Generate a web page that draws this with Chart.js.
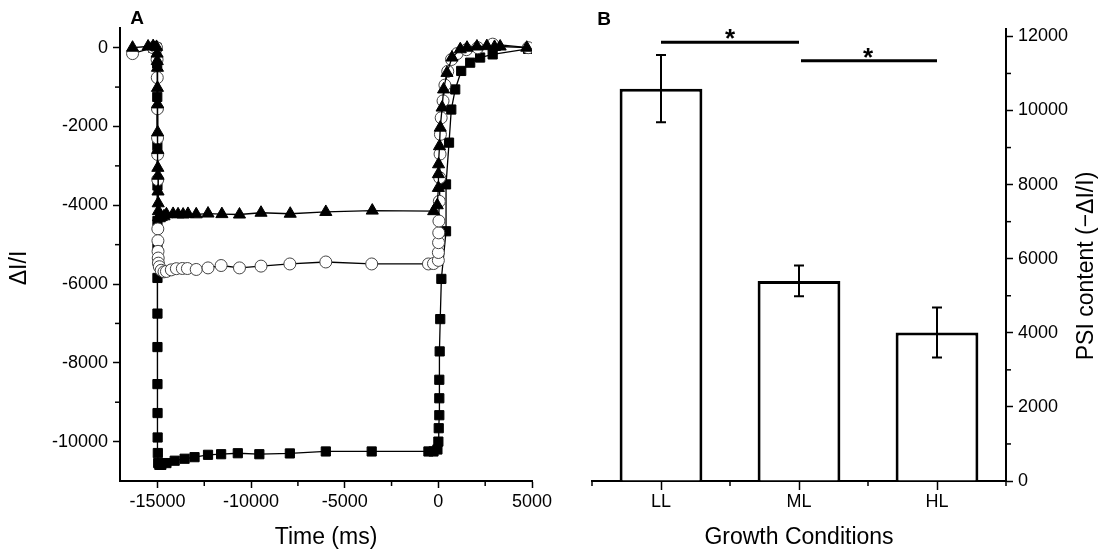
<!DOCTYPE html>
<html><head><meta charset="utf-8">
<script src="https://cdn.jsdelivr.net/npm/chart.js@4/dist/chart.umd.min.js"></script>
<style>
html,body{margin:0;padding:0;background:#fff;}
#wrap{position:relative;width:1106px;height:554px;overflow:hidden;background:#fff;}
#cA{position:absolute;left:0;top:0;}
#cB{position:absolute;left:560px;top:0;}
</style></head><body>
<div id="wrap"><canvas id="cA" width="560" height="554"></canvas><canvas id="cB" width="546" height="554"></canvas></div>
<script>
// ---------- Panel A data (time in ms, ΔI/I) ----------
const triT = [-16330,-15500,-15230,-15050,-15020,-15010,-15000,-15000,-14990,-14990,-14980,-14980,-14970,-14970,-14960,-14950,-14940,-14900,-14800,-14650,-14520,-14165,-13900,-13630,-13370,-12930,-12300,-11560,-10620,-9470,-7910,-6010,-3530,-250,-60,0,0,10,60,100,200,280,460,730,1170,1530,2060,2590,3000,3300,4720];
const triV = [0,30,40,20,-150,-340,-510,-1020,-1440,-2150,-2600,-3050,-3250,-3650,-3950,-4150,-4300,-4330,-4300,-4280,-4230,-4220,-4230,-4235,-4220,-4230,-4210,-4225,-4235,-4190,-4215,-4170,-4135,-4150,-4000,-3560,-3210,-2960,-2500,-2030,-1520,-1060,-640,-250,-40,0,30,40,20,30,0];
const cirT = [-16330,-15230,-15050,-15020,-15010,-15000,-14995,-14990,-14985,-14980,-14975,-14970,-14960,-14950,-14900,-14800,-14650,-14520,-14260,-13990,-13670,-13400,-12930,-12300,-11600,-10620,-9470,-7930,-6010,-3560,-530,-260,0,0,10,20,30,50,70,90,110,150,250,350,500,700,1000,1500,2100,2900,4800];
const cirV = [-150,0,0,-300,-760,-1550,-2290,-2710,-3350,-4600,-4900,-5170,-5340,-5470,-5560,-5650,-5690,-5680,-5640,-5610,-5605,-5606,-5630,-5590,-5530,-5590,-5545,-5490,-5440,-5490,-5490,-5480,-5400,-5200,-4950,-4700,-4400,-3900,-3300,-2700,-2200,-1780,-1350,-950,-600,-300,-150,-50,0,90,0];
const sqT = [-15230,-15050,-15015,-15010,-15005,-15000,-15000,-15000,-15000,-15000,-15000,-15000,-14995,-14990,-14980,-14960,-14900,-14790,-14520,-14080,-13550,-13020,-12300,-11600,-10710,-9560,-7930,-6010,-3560,-530,-260,-50,0,20,50,50,50,70,100,160,410,410,570,690,900,1220,1700,2230,2900,4790];
const sqV = [0,0,-400,-1250,-2500,-3500,-4400,-5100,-5845,-6750,-7600,-8540,-9275,-9895,-10290,-10545,-10590,-10590,-10545,-10485,-10435,-10395,-10335,-10320,-10295,-10320,-10300,-10250,-10250,-10250,-10250,-10200,-10000,-9660,-9330,-8900,-8430,-7710,-6890,-5870,-4660,-3470,-2410,-1570,-1060,-590,-380,-250,-170,-30];
const xTicksA = [-15000,-10000,-5000,0,5000];
const xMinorA = [-12500,-7500,-2500,2500];
const yTicksA = [0,-2000,-4000,-6000,-8000,-10000];
const yMinorA = [-1000,-3000,-5000,-7000,-9000];

// ---------- Panel B data ----------
const conds = ['LL','ML','HL'];
const means = [10590,5400,4010];
const errs = [910,415,675];
const sigFrom = [0,1];
const sigTo = [1,2];
const sigLevel = [11840,11340];
const sigMark = ['*','*'];
const yTicksB = [0,2000,4000,6000,8000,10000,12000];
const yMinorB = [1000,3000,5000,7000,9000,11000];
const xMinorB = [-0.5,0.5,1.5,2.5];

const FONT = "'Liberation Sans', Arial, sans-serif";
Chart.defaults.font.family = FONT;
Chart.defaults.color = '#000';

function pts(t, v){ return t.map((x,i)=>({x:x, y:v[i]})); }

const minorTicks = {
  id:'minorTicks',
  afterDraw(chart, args, opts){
    const ctx = chart.ctx; ctx.save(); ctx.strokeStyle='#000'; ctx.lineWidth=1.5;
    (opts.list||[]).forEach(m=>{
      const s = chart.scales[m.axis];
      m.values.forEach(v=>{
        const p = s.getPixelForValue(v);
        ctx.beginPath();
        if (s.isHorizontal()) { ctx.moveTo(p, s.top); ctx.lineTo(p, s.top + m.len); }
        else if (s.position==='left') { ctx.moveTo(s.right, p); ctx.lineTo(s.right - m.len, p); }
        else { ctx.moveTo(s.left, p); ctx.lineTo(s.left + m.len, p); }
        ctx.stroke();
      });
    });
    ctx.restore();
  }
};

const texts = {
  id:'texts',
  afterDraw(chart, args, opts){
    const ctx = chart.ctx; ctx.save(); ctx.fillStyle='#000';
    ctx.textAlign='center'; ctx.textBaseline='middle';
    (opts.items||[]).forEach(it=>{
      ctx.save();
      ctx.font = it.font;
      ctx.translate(it.x, it.y);
      if (it.rot) ctx.rotate(it.rot);
      ctx.fillText(it.text, 0, 0);
      ctx.restore();
    });
    ctx.restore();
  }
};

const errSig = {
  id:'errSig',
  afterDatasetsDraw(chart){
    const ctx = chart.ctx, xs = chart.scales.x, ys = chart.scales.y;
    ctx.save(); ctx.strokeStyle='#000';
    ctx.lineWidth = 2;
    means.forEach((m,i)=>{
      const x = xs.getPixelForValue(i);
      const yt = ys.getPixelForValue(m + errs[i]);
      const yb = ys.getPixelForValue(m - errs[i]);
      ctx.beginPath();
      ctx.moveTo(x, yt); ctx.lineTo(x, yb);
      ctx.moveTo(x-5, yt); ctx.lineTo(x+5, yt);
      ctx.moveTo(x-5, yb); ctx.lineTo(x+5, yb);
      ctx.stroke();
    });
    ctx.lineWidth = 3;
    ctx.fillStyle = '#000';
    ctx.font = "bold 26px " + FONT;
    ctx.textAlign = 'center'; ctx.textBaseline = 'alphabetic';
    sigFrom.forEach((f,i)=>{
      const x1 = xs.getPixelForValue(f), x2 = xs.getPixelForValue(sigTo[i]);
      const y = ys.getPixelForValue(sigLevel[i]);
      ctx.beginPath(); ctx.moveTo(x1 + (i>0?2:0), y); ctx.lineTo(x2, y); ctx.stroke();
      ctx.fillText(sigMark[i], (x1+x2)/2, y + 5);
    });
    ctx.restore();
  }
};

const gridCommon = {drawOnChartArea:false, drawTicks:true, tickWidth:1.5, tickColor:'#000'};

new Chart(document.getElementById('cA'), {
  type:'scatter',
  data:{datasets:[
    {label:'triangle', data:pts(triT,triV), showLine:true, borderColor:'#000', borderWidth:1.3,
     pointStyle:'triangle', pointRadius:7, pointBackgroundColor:'#000', pointBorderColor:'#000', pointBorderWidth:1, order:1},
    {label:'circle', data:pts(cirT,cirV), showLine:true, borderColor:'#000', borderWidth:1.3,
     pointStyle:'circle', pointRadius:6, pointBackgroundColor:'#fff', pointBorderColor:'#444', pointBorderWidth:1, order:2},
    {label:'square', data:pts(sqT,sqV), showLine:true, borderColor:'#000', borderWidth:1.3,
     pointStyle:'rect', pointRadius:6.5, pointBackgroundColor:'#000', pointBorderColor:'#000', pointBorderWidth:1, order:3}
  ]},
  options:{
    responsive:false, animation:false, events:[],
    layout:{padding:{left:0,right:28,top:28,bottom:0}},
    plugins:{legend:{display:false}, tooltip:{enabled:false},
      minorTicks:{list:[{axis:'x',values:xMinorA,len:5},{axis:'y',values:yMinorA,len:5}]},
      texts:{items:[
        {text:'A', x:137, y:19, font:'bold 19px '+FONT},
        {text:'Time (ms)', x:326, y:538, font:'23px '+FONT},
        {text:'\u0394I/I', x:20, y:268, font:'23px '+FONT, rot:-Math.PI/2}
      ]}
    },
    scales:{
      x:{type:'linear', min:-17000, max:5000,
        afterBuildTicks:s=>{s.ticks = xTicksA.map(v=>({value:v}));},
        afterFit:s=>{s.height=73;},
        grid:Object.assign({tickLength:7}, gridCommon),
        border:{display:true,color:'#000',width:2},
        ticks:{font:{size:18}, color:'#000', padding:3, maxRotation:0, autoSkip:false, callback:v=>String(v)}},
      y:{type:'linear', min:-11000, max:500,
        afterBuildTicks:s=>{s.ticks = yTicksA.map(v=>({value:v}));},
        afterFit:s=>{s.width=120;},
        grid:Object.assign({tickLength:7}, gridCommon),
        border:{display:true,color:'#000',width:2},
        ticks:{font:{size:18}, color:'#000', padding:5, autoSkip:false, callback:v=>String(v)}}
    }
  },
  plugins:[minorTicks, texts]
});

new Chart(document.getElementById('cB'), {
  type:'bar',
  data:{labels:conds, datasets:[{data:means, backgroundColor:'#fff', borderColor:'#000', borderWidth:3,
    borderSkipped:'start', barPercentage:0.6, categoryPercentage:1}]},
  options:{
    responsive:false, animation:false, events:[],
    layout:{padding:{left:32,right:0,top:29,bottom:0}},
    plugins:{legend:{display:false}, tooltip:{enabled:false},
      minorTicks:{list:[{axis:'x',values:xMinorB,len:5},{axis:'y',values:yMinorB,len:5}]},
      texts:{items:[
        {text:'B', x:44, y:20, font:'bold 19px '+FONT},
        {text:'Growth Conditions', x:239, y:538, font:'23px '+FONT},
        {text:'PSI content (\u2212\u0394I/I)', x:527, y:266, font:'23px '+FONT, rot:-Math.PI/2}
      ]}
    },
    scales:{
      x:{offset:true,
        afterFit:s=>{s.height=73;},
        grid:Object.assign({tickLength:9, offset:false}, gridCommon),
        border:{display:true,color:'#000',width:2},
        ticks:{font:{size:18}, color:'#000', padding:1}},
      y:{type:'linear', position:'right', min:0, max:12200,
        afterBuildTicks:s=>{s.ticks = yTicksB.map(v=>({value:v}));},
        afterFit:s=>{s.width=100;},
        grid:Object.assign({tickLength:7}, gridCommon),
        border:{display:true,color:'#000',width:2},
        ticks:{font:{size:18}, color:'#000', padding:5, autoSkip:false, callback:v=>String(v)}}
    }
  },
  plugins:[minorTicks, texts, errSig]
});
</script>
</body></html>
